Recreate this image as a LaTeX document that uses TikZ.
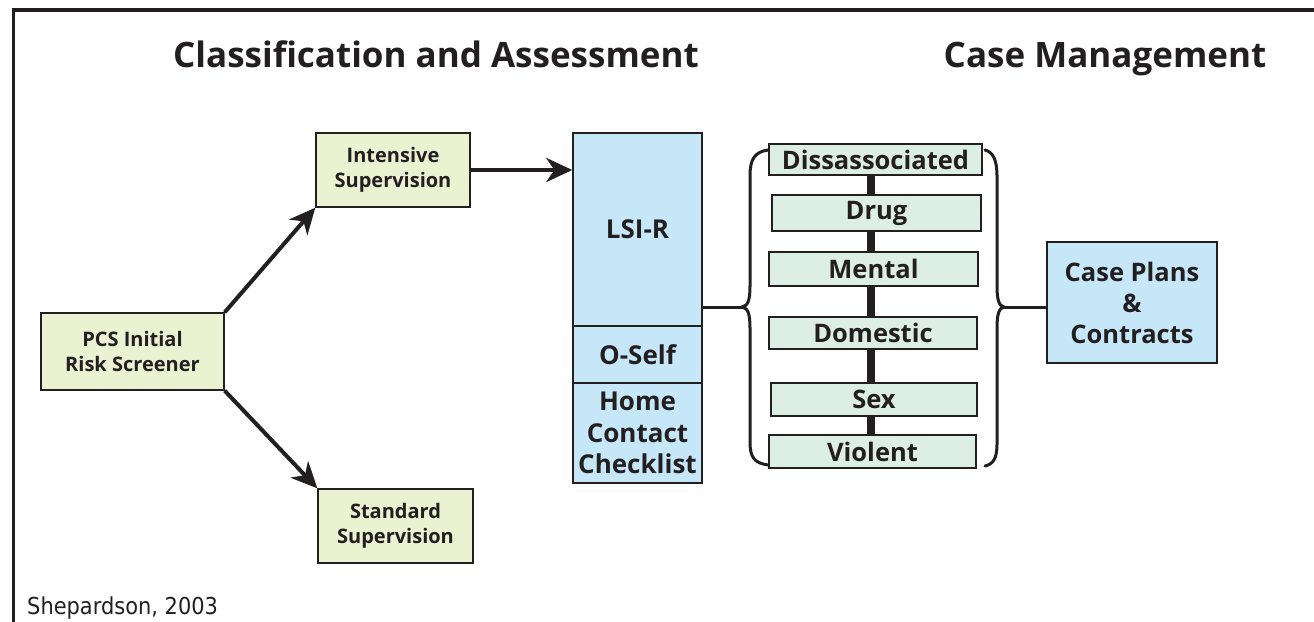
\documentclass[tikz,border=0pt]{standalone}
\usepackage{fontspec}
\setmainfont{Open Sans}
\newfontfamily\credfont{DejaVu Sans Condensed}
\usetikzlibrary{arrows.meta}
\definecolor{boxgreen}{RGB}{235,242,210}
\definecolor{boxblue}{RGB}{197,231,248}
\definecolor{boxteal}{RGB}{221,238,229}
\definecolor{ink}{RGB}{35,31,32}
\tikzset{
  basebox/.style={draw=ink, line width=1.4pt, inner sep=0pt, align=center, text=ink, font=\bfseries},
  greenbox/.style={basebox, fill=boxgreen, font=\fontsize{20}{25}\selectfont\bfseries},
  bluebox/.style={basebox, fill=boxblue, font=\fontsize{26}{31.5}\selectfont\bfseries},
  catbox/.style={basebox, fill=boxteal, font=\fontsize{25.5}{28}\selectfont\bfseries},
  bigarrow/.style={ink, line width=4pt, -{Stealth[length=26pt,width=24pt,inset=8pt]}},
  title/.style={text=ink, font=\fontsize{35}{40}\selectfont\bfseries, inner sep=0pt, anchor=base},
  bracestyle/.style={ink, line width=3pt, line cap=round},
  joinline/.style={ink, line width=3pt},
  spineline/.style={ink, line width=8pt}
}
\begin{document}
\begin{tikzpicture}[x=1pt,y=-1pt]
\useasboundingbox (0,0) rectangle (1314,621);
\fill[white] (0,0) rectangle (1314,621);
% frame
\draw[ink, line width=3.5pt] (13.5,630) -- (13.5,10) -- (1320,10);

% titles
\node[title] (t1) at (436,67) {Classification and Assessment};
\node[title] (t2) at (1105,67) {Case Management};

% left boxes
\node[greenbox, minimum width=154pt, minimum height=74pt] (int) at (393,170) {Intensive\\Supervision};
\node[greenbox, minimum width=183pt, minimum height=77pt] (pcs) at (132.5,351.5) {PCS Initial\\Risk Screener};
\node[greenbox, minimum width=155pt, minimum height=74pt] (std) at (395.5,526) {Standard\\Supervision};

% assessment column
\node[bluebox, minimum width=129pt, minimum height=193pt] (lsi) at (637.5,229.5) {LSI-R};
\node[bluebox, minimum width=129pt, minimum height=57pt] (oself) at (637.5,354.5) {O-Self};
\node[bluebox, minimum width=129pt, minimum height=100pt] (home) at (637.5,433) {Home\\Contact\\Checklist};

% categories
\node[catbox, minimum width=213pt, minimum height=31pt] (dis) at (875.5,159.5) {Dissassociated};
\node[catbox, minimum width=209pt, minimum height=36pt] (drug) at (876.5,213) {Drug};
\node[catbox, minimum width=209pt, minimum height=34pt] (mental) at (873.5,269) {Mental};
\node[catbox, minimum width=208pt, minimum height=32pt] (dom) at (873,333) {Domestic};
\node[catbox, minimum width=206pt, minimum height=33pt] (sex) at (874,399.5) {Sex};
\node[catbox, minimum width=207pt, minimum height=33pt] (vio) at (872.5,451.5) {Violent};

% case plans
\node[basebox, fill=boxblue, font=\fontsize{25.5}{31}\selectfont\bfseries, minimum width=170pt, minimum height=121pt] (case) at (1132,302.5) {Case Plans\\\&\\Contracts};

% spine between categories
\coordinate (spine) at (871,0);
\draw[spineline] (dis.south -| spine) -- (drug.north -| spine);
\draw[spineline] (drug.south -| spine) -- (mental.north -| spine);
\draw[spineline] (mental.south -| spine) -- (dom.north -| spine);
\draw[spineline] (dom.south -| spine) -- (sex.north -| spine);
\draw[spineline] (sex.south -| spine) -- (vio.north -| spine);

% arrows
\draw[bigarrow] (pcs.north east) -- (int.south west);
\draw[bigarrow] (pcs.south east) -- (std.north west);
\draw[bigarrow] (int.east) -- (lsi.west |- int.east);

% left brace
\coordinate (lb) at (742,307);
\draw[bracestyle] (768,150) .. controls (754,152) and (750,160) .. (750,176)
  -- (750,286) .. controls (750,300) and (748,306) .. (lb)
  .. controls (748,308) and (750,314) .. (750,328)
  -- (750,442) .. controls (750,457) and (754,463) .. (768,465);
\draw[joinline] (lsi.east |- lb) -- (lb);

% right brace
\coordinate (rb) at (1004,307);
\draw[bracestyle] (985,150) .. controls (993,152) and (997,160) .. (997,176)
  -- (997,286) .. controls (997,300) and (999,306) .. (rb)
  .. controls (999,308) and (997,314) .. (997,328)
  -- (997,444) .. controls (997,459) and (993,464) .. (985,466);
\draw[joinline] (rb) -- (case.west |- rb);

% credit
\node[anchor=base west, inner sep=0pt, text=ink, font=\credfont\fontsize{23.3}{26}\selectfont] (cred) at (27,614) {Shepardson, 2003};
\end{tikzpicture}
\end{document}
